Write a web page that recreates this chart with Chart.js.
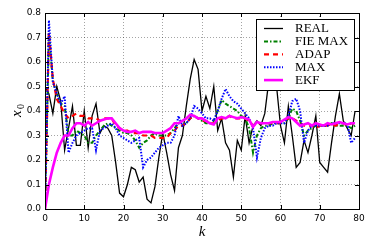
<!DOCTYPE html>
<html>
<head>
<meta charset="utf-8">
<script src="https://cdn.jsdelivr.net/npm/chart.js@4.4.1/dist/chart.umd.min.js"></script>
<style>
  html, body { margin: 0; padding: 0; background: #fff; }
  #wrap { width: 374px; height: 249px; position: relative; }
</style>
</head>
<body>
<div id="wrap"><canvas id="stateChart"></canvas></div>
<script>
// time steps k
const steps = [...Array(80).keys()];

const realValues = [
  0.50, 0.47, 0.39, 0.50, 0.44, 0.24, 0.33, 0.42, 0.26, 0.26,
  0.40, 0.25, 0.38, 0.43, 0.31, 0.34, 0.33, 0.30, 0.19, 0.065,
  0.05, 0.10, 0.17, 0.16, 0.11, 0.13, 0.04, 0.025, 0.09, 0.21,
  0.31, 0.23, 0.14, 0.075, 0.25, 0.30, 0.42, 0.53, 0.61, 0.57,
  0.40, 0.46, 0.41, 0.50, 0.32, 0.37, 0.27, 0.24, 0.13, 0.28,
  0.24, 0.38, 0.27, 0.34, 0.36, 0.34, 0.39, 0.52, 0.64, 0.50,
  0.34, 0.27, 0.42, 0.30, 0.17, 0.19, 0.28, 0.23, 0.30, 0.38,
  0.19, 0.17, 0.15, 0.27, 0.38, 0.47, 0.36, 0.33, 0.30, 0.40
];

const fieMaxValues = [
  0.00, 0.72, 0.52, 0.47, 0.43, 0.42, 0.30, 0.30, 0.32, 0.31,
  0.30, 0.27, 0.27, 0.30, 0.32, 0.34, 0.35, 0.34, 0.33, 0.32,
  0.31, 0.31, 0.30, 0.28, 0.25, 0.27, 0.28, 0.30, 0.31, 0.30,
  0.30, 0.30, 0.31, 0.33, 0.35, 0.34, 0.35, 0.37, 0.38, 0.37,
  0.36, 0.35, 0.35, 0.36, 0.40, 0.445, 0.43, 0.42, 0.41, 0.40,
  0.38, 0.37, 0.33, 0.23, 0.30, 0.33, 0.34, 0.34, 0.35, 0.35,
  0.35, 0.35, 0.37, 0.41, 0.40, 0.36, 0.30, 0.32, 0.33, 0.34,
  0.34, 0.34, 0.34, 0.35, 0.34, 0.34, 0.34, 0.34, 0.33, 0.34
];

const adapValues = [
  0.00, 0.72, 0.53, 0.45, 0.42, 0.39, 0.37, 0.38, 0.39, 0.38,
  0.38, 0.37, 0.37, 0.37, 0.36, 0.37, 0.37, 0.37, 0.34, 0.33,
  0.32, 0.32, 0.31, 0.31, 0.31, 0.30, 0.30, 0.30, 0.29, 0.29,
  0.29, 0.29, 0.31, 0.32, 0.34, 0.34, 0.35, 0.37, 0.38, 0.37,
  0.36, 0.36, 0.35, 0.35, 0.36, 0.37, 0.37, 0.38, 0.37, 0.37,
  0.37, 0.37, 0.36, 0.34, 0.35, 0.35, 0.35, 0.35, 0.35, 0.35,
  0.35, 0.36, 0.37, 0.37, 0.36, 0.35, 0.34, 0.34, 0.34, 0.33,
  0.34, 0.34, 0.34, 0.35, 0.34, 0.35, 0.35, 0.34, 0.35, 0.35
];

const maxValues = [
  0.00, 0.77, 0.52, 0.47, 0.43, 0.46, 0.23, 0.27, 0.30, 0.31,
  0.32, 0.33, 0.33, 0.24, 0.32, 0.33, 0.34, 0.35, 0.33, 0.30,
  0.29, 0.28, 0.27, 0.28, 0.29, 0.17, 0.20, 0.21, 0.23, 0.25,
  0.26, 0.27, 0.27, 0.30, 0.38, 0.34, 0.35, 0.37, 0.42, 0.41,
  0.39, 0.37, 0.37, 0.36, 0.40, 0.45, 0.49, 0.46, 0.44, 0.43,
  0.41, 0.39, 0.37, 0.33, 0.21, 0.29, 0.33, 0.34, 0.34, 0.35,
  0.35, 0.35, 0.38, 0.44, 0.45, 0.40, 0.27, 0.32, 0.34, 0.34,
  0.34, 0.34, 0.34, 0.35, 0.35, 0.35, 0.35, 0.35, 0.27, 0.29
];

const ekfValues = [
  0.00, 0.10, 0.17, 0.23, 0.27, 0.30, 0.30, 0.33, 0.35, 0.35,
  0.34, 0.355, 0.34, 0.35, 0.36, 0.365, 0.37, 0.37, 0.35, 0.33,
  0.32, 0.315, 0.315, 0.32, 0.31, 0.315, 0.315, 0.315, 0.31, 0.31,
  0.31, 0.32, 0.33, 0.35, 0.35, 0.36, 0.37, 0.385, 0.38, 0.37,
  0.37, 0.36, 0.35, 0.345, 0.37, 0.375, 0.37, 0.38, 0.375, 0.37,
  0.375, 0.37, 0.365, 0.335, 0.355, 0.35, 0.35, 0.35, 0.355, 0.355,
  0.355, 0.365, 0.375, 0.37, 0.355, 0.34, 0.345, 0.35, 0.34, 0.35,
  0.345, 0.34, 0.35, 0.345, 0.35, 0.355, 0.35, 0.345, 0.35, 0.35
];

const xTicks = [0, 10, 20, 30, 40, 50, 60, 70, 80];
const yTicks = [0.0, 0.1, 0.2, 0.3, 0.4, 0.5, 0.6, 0.7, 0.8];

function toPoints(values) {
  return values.map((v, i) => ({ x: steps[i], y: v }));
}

// frame, inward tick marks, axis titles and the boxed legend (matplotlib look)
const mplDecor = {
  id: 'mplDecor',
  afterDatasetsDraw(chart) {
    const { ctx, chartArea: a, scales } = chart;
    ctx.save();
    ctx.strokeStyle = '#000';
    ctx.lineWidth = 1;
    ctx.setLineDash([]);
    ctx.beginPath();
    xTicks.forEach(t => {
      const px = Math.round(scales.x.getPixelForValue(t)) + 0.5;
      ctx.moveTo(px, a.bottom); ctx.lineTo(px, a.bottom - 4);
      ctx.moveTo(px, a.top); ctx.lineTo(px, a.top + 4);
    });
    yTicks.forEach(t => {
      const py = Math.round(scales.y.getPixelForValue(t)) + 0.5;
      ctx.moveTo(a.left, py); ctx.lineTo(a.left + 4, py);
      ctx.moveTo(a.right, py); ctx.lineTo(a.right - 4, py);
    });
    ctx.stroke();
    ctx.strokeRect(Math.round(a.left) + 0.5, Math.round(a.top) + 0.5,
      Math.round(a.right - a.left), Math.round(a.bottom - a.top));

    // legend box
    const bx = a.right - 103, by = a.top + 6, bw = 98, bh = 71;
    ctx.fillStyle = '#fff';
    ctx.fillRect(bx, by, bw, bh);
    ctx.strokeStyle = '#000';
    ctx.lineWidth = 1;
    ctx.strokeRect(bx + 0.5, by + 0.5, bw, bh);
    ctx.font = '13px "Liberation Serif", "Times New Roman", serif';
    ctx.textBaseline = 'middle';
    chart.data.datasets.forEach((ds, i) => {
      const y = by + 9.5 + i * 12.9;
      ctx.beginPath();
      ctx.strokeStyle = ds.borderColor;
      ctx.lineWidth = ds.borderWidth;
      ctx.setLineDash(ds.borderDash || []);
      ctx.moveTo(bx + 8, y); ctx.lineTo(bx + 27, y);
      ctx.stroke();
      ctx.setLineDash([]);
      ctx.fillStyle = '#000';
      ctx.fillText(ds.label, bx + 39, y + 0.5);
    });

    // axis titles
    ctx.fillStyle = '#000';
    ctx.textAlign = 'center';
    ctx.textBaseline = 'middle';
    ctx.font = 'italic 15px "Liberation Serif", serif';
    ctx.fillText('k', (a.left + a.right) / 2, 232);
    ctx.translate(17, (a.top + a.bottom) / 2);
    ctx.rotate(-Math.PI / 2);
    ctx.textAlign = 'left';
    ctx.fillText('x', -6, 0);
    ctx.font = '10px "Liberation Serif", serif';
    ctx.fillText('0', 2, 4);
    ctx.restore();
  }
};

new Chart(document.getElementById('stateChart'), {
  type: 'line',
  data: {
    datasets: [
      { label: 'REAL', data: toPoints(realValues), borderColor: '#000000', borderWidth: 1.3, order: 5 },
      { label: 'FIE MAX', data: toPoints(fieMaxValues), borderColor: '#008000', borderWidth: 2, borderDash: [4, 2, 1.5, 2], order: 4 },
      { label: 'ADAP', data: toPoints(adapValues), borderColor: '#ff0000', borderWidth: 2.2, borderDash: [5, 4], order: 3 },
      { label: 'MAX', data: toPoints(maxValues), borderColor: '#0000ff', borderWidth: 2, borderDash: [1.5, 1.5], order: 2 },
      { label: 'EKF', data: toPoints(ekfValues), borderColor: '#ff00ff', borderWidth: 2.6, order: 1 }
    ]
  },
  options: {
    responsive: true,
    maintainAspectRatio: false,
    animation: false,
    devicePixelRatio: 1,
    elements: { point: { radius: 0 }, line: { tension: 0, fill: false } },
    layout: { padding: { left: 0, right: 15, top: 13, bottom: 0 } },
    plugins: { legend: { display: false }, tooltip: { enabled: false } },
    scales: {
      x: {
        type: 'linear',
        min: 0, max: 80,
        afterFit: s => { s.height = 40; },
        afterBuildTicks: s => { s.ticks = xTicks.map(v => ({ value: v })); },
        ticks: { color: '#000', padding: 4, maxRotation: 0, font: { family: 'DejaVu Sans', size: 9 } },
        grid: { color: 'rgba(0,0,0,0.6)', lineWidth: 0.6, drawTicks: false },
        border: { display: false, dash: [1, 2] }
      },
      y: {
        min: 0, max: 0.8,
        afterFit: s => { s.width = 45; },
        afterBuildTicks: s => { s.ticks = yTicks.map(v => ({ value: v })); },
        ticks: { color: '#000', padding: 4, font: { family: 'DejaVu Sans', size: 9 }, callback: v => v.toFixed(1) },
        grid: { color: 'rgba(0,0,0,0.6)', lineWidth: 0.6, drawTicks: false },
        border: { display: false, dash: [1, 2] }
      }
    }
  },
  plugins: [mplDecor]
});
</script>
</body>
</html>
